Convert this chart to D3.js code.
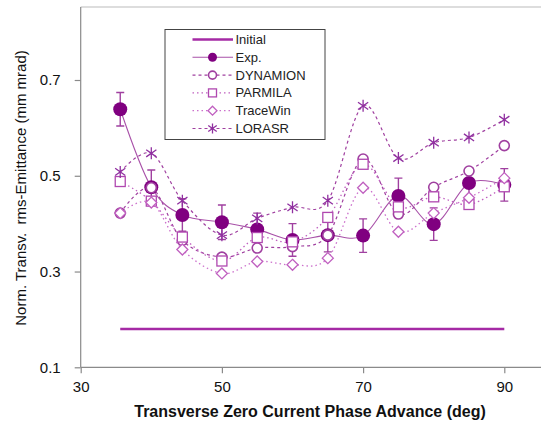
<!DOCTYPE html>
<html><head><meta charset="utf-8">
<script src="https://cdn.jsdelivr.net/npm/d3@7"></script>
<style>
html,body{margin:0;padding:0;background:#fff;}
svg{display:block;font-family:"Liberation Sans",Arial,sans-serif;}
</style></head>
<body>
<svg id="chart" width="541" height="434"></svg>
<script>
// ---- data ----
const phase = [35.6, 40, 44.4, 50, 55, 60, 65, 70, 75, 80, 85, 90];
const initialX = [35.6, 90];
const initialY = [0.18, 0.18];
const expY      = [0.639, 0.476, 0.418, 0.403, 0.388, 0.366, 0.376, 0.375, 0.458, 0.399, 0.485, 0.481];
const expErr    = [0.035, 0.036, 0.034, 0.036, 0.034, 0.034, 0.035, 0.035, 0.037, 0.034, 0.030, 0.034];
const dynamion  = [0.422, 0.475, 0.365, 0.330, 0.349, 0.352, 0.376, 0.535, 0.420, 0.476, 0.510, 0.563];
const parmila   = [0.488, 0.447, 0.372, 0.322, 0.371, 0.362, 0.413, 0.524, 0.435, 0.456, 0.440, 0.477];
const tracewin  = [0.422, 0.444, 0.346, 0.296, 0.321, 0.314, 0.328, 0.475, 0.383, 0.422, 0.454, 0.495];
const lorasr    = [0.508, 0.547, 0.448, 0.376, 0.411, 0.434, 0.448, 0.646, 0.537, 0.569, 0.580, 0.617];
const xTicks = [30, 50, 70, 90];
const yTicks = [0.1, 0.3, 0.5, 0.7];
const legendLabels = ["Initial", "Exp.", "DYNAMION", "PARMILA", "TraceWin", "LORASR"];

// ---- layout ----
const W = 541, H = 434;
const svg = d3.select("#chart");
const x = d3.scaleLinear().domain([30, 90]).range([80.7, 504.3]);
const y = d3.scaleLinear().domain([0.1, 0.7]).range([367.3, 80]);
const plotTop = 7, plotRight = W;

const axisCol = "#8a8a8a";
svg.append("line").attr("x1", x(30)).attr("x2", plotRight).attr("y1", plotTop).attr("y2", plotTop)
  .attr("stroke", "#bbb").attr("stroke-width", 1);

const xAxis = svg.append("g").attr("transform", `translate(0,${y(0.1)})`)
  .call(d3.axisBottom(x).tickValues(xTicks).tickFormat(d3.format("d")).tickSize(6).tickPadding(8));
const yAxis = svg.append("g").attr("transform", `translate(${x(30)},0)`)
  .call(d3.axisLeft(y).tickValues(yTicks).tickFormat(d3.format(".1f")).tickSize(6).tickPadding(14));
[xAxis, yAxis].forEach(g => {
  g.select(".domain").remove();
  g.selectAll(".tick line").attr("stroke", axisCol).attr("stroke-width", 1.2);
  g.selectAll(".tick text").attr("fill", "#111").style("font-size", "15px")
    .style("font-family", "'Liberation Sans',Arial,sans-serif");
});
svg.append("line").attr("x1", x(30)).attr("x2", plotRight).attr("y1", y(0.1)).attr("y2", y(0.1))
  .attr("stroke", axisCol).attr("stroke-width", 1.2);
svg.append("line").attr("x1", x(30)).attr("x2", x(30)).attr("y1", plotTop).attr("y2", y(0.1))
  .attr("stroke", axisCol).attr("stroke-width", 1.2);

// titles
svg.append("text").attr("x", 310).attr("y", 417).attr("text-anchor", "middle")
  .style("font-size", "16px").style("font-weight", "bold").attr("fill", "#111")
  .text("Transverse Zero Current Phase Advance (deg)");
svg.append("text").attr("transform", "translate(26,188) rotate(-90)").attr("text-anchor", "middle")
  .style("font-size", "15px").style("white-space", "pre").attr("fill", "#111")
  .text("Norm. Transv.  rms-Emittance (mm mrad)");

// ---- styles ----
const styles = {
  initial:  {stroke: "#a52aa5", width: 2.6, dash: null},
  exp:      {stroke: "#a850a8", width: 1.1, dash: null},
  dynamion: {stroke: "#a040a0", width: 1.2, dash: "3,3", mark: "#a040a0"},
  parmila:  {stroke: "#c060c0", width: 1.3, dash: "1.5,3", mark: "#b048b0"},
  tracewin: {stroke: "#cc70cc", width: 1.3, dash: "1.5,3", mark: "#c060c0"},
  lorasr:   {stroke: "#a040a0", width: 1.2, dash: "3,3", mark: "#9030a0"}
};
const curve = d3.curveCatmullRom.alpha(0);

function marker(g, type, cx, cy, s, col) {
  if (type === "dot") {
    g.append("circle").attr("cx", cx).attr("cy", cy).attr("r", s).attr("fill", "#800080");
  } else if (type === "circle") {
    g.append("circle").attr("cx", cx).attr("cy", cy).attr("r", s).attr("fill", "#fff")
      .attr("stroke", col).attr("stroke-width", 1.6);
  } else if (type === "square") {
    g.append("rect").attr("x", cx - s).attr("y", cy - s).attr("width", 2 * s).attr("height", 2 * s)
      .attr("fill", "#fff").attr("stroke", col).attr("stroke-width", 1.3);
  } else if (type === "diamond") {
    g.append("path").attr("d", `M${cx},${cy - s}L${cx + s},${cy}L${cx},${cy + s}L${cx - s},${cy}Z`)
      .attr("fill", "#fff").attr("stroke", col).attr("stroke-width", 1.3);
  } else if (type === "asterisk") {
    const a = s * 0.85, b = s * 0.6;
    g.append("path").attr("d", `M${cx},${cy - s}V${cy + s}M${cx - a},${cy - b}L${cx + a},${cy + b}M${cx - a},${cy + b}L${cx + a},${cy - b}`)
      .attr("fill", "none").attr("stroke", col).attr("stroke-width", 1.3);
  }
}

function drawLine(vals, st, xs) {
  const line = d3.line().x((d, i) => x(xs[i])).y(d => y(d)).curve(curve);
  svg.append("path").datum(vals).attr("d", line).attr("fill", "none")
    .attr("stroke", st.stroke).attr("stroke-width", st.width)
    .attr("stroke-dasharray", st.dash);
}

// Initial
svg.append("path").datum(initialY)
  .attr("d", d3.line().x((d, i) => x(initialX[i])).y(d => y(d)))
  .attr("fill", "none").attr("stroke", styles.initial.stroke).attr("stroke-width", styles.initial.width);

// Exp
drawLine(expY, styles.exp, phase);
const eg = svg.append("g");
expY.forEach((v, i) => {
  const cx = x(phase[i]), t = y(v + expErr[i]), b = y(v - expErr[i]);
  eg.append("path").attr("d", `M${cx},${t}V${b}M${cx - 4},${t}H${cx + 4}M${cx - 4},${b}H${cx + 4}`)
    .attr("stroke", "#a040a0").attr("stroke-width", 1.4).attr("fill", "none");
});
expY.forEach((v, i) => marker(eg, "dot", x(phase[i]), y(v), 7));

const sims = [
  [dynamion, styles.dynamion, "circle", 5],
  [parmila, styles.parmila, "square", 5],
  [tracewin, styles.tracewin, "diamond", 5.5],
  [lorasr, styles.lorasr, "asterisk", 6]
];
sims.forEach(([vals, st, type, s]) => {
  drawLine(vals, st, phase);
  const g = svg.append("g");
  vals.forEach((v, i) => marker(g, type, x(phase[i]), y(v), s, st.mark));
});

// ---- legend ----
const lg = svg.append("g");
lg.append("rect").attr("x", 165).attr("y", 29.5).attr("width", 160).attr("height", 110)
  .attr("fill", "#fff").attr("stroke", "#444").attr("stroke-width", 1);
const rowY0 = 39.5, rowStep = 17.8;
const legDefs = [
  [styles.initial, null, 0],
  [styles.exp, "dot", 4.5],
  [styles.dynamion, "circle", 4],
  [styles.parmila, "square", 4],
  [styles.tracewin, "diamond", 4.5],
  [styles.lorasr, "asterisk", 5]
];
legDefs.forEach(([st, type, s], i) => {
  const ry = rowY0 + i * rowStep;
  lg.append("line").attr("x1", 192.5).attr("x2", 233).attr("y1", ry).attr("y2", ry)
    .attr("stroke", st.stroke).attr("stroke-width", st.width).attr("stroke-dasharray", st.dash);
  if (type) marker(lg, type, 212.5, ry, s, st.mark);
  lg.append("text").attr("x", 235.5).attr("y", ry + 4.5).style("font-size", "13px").attr("fill", "#222")
    .text(legendLabels[i]);
});
</script>
</body></html>
